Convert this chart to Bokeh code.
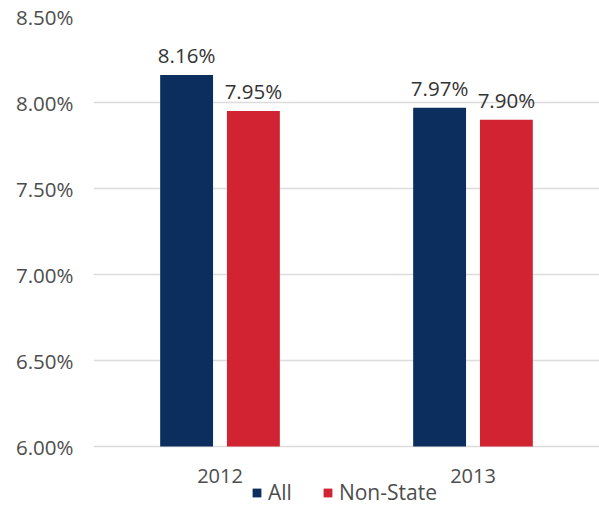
from bokeh.plotting import figure
from bokeh.models import ColumnDataSource, FactorRange, Range1d, Legend, LegendItem, FixedTicker, LabelSet, CustomJSTickFormatter
from bokeh.transform import dodge
from bokeh.core.properties import value
from bokeh.embed import file_html
from bokeh.resources import INLINE

years = ["2012", "2013"]
series = ["All", "Non-State"]
all_vals = [8.16, 7.97]
nonstate_vals = [7.95, 7.90]
colors = ["#0b2e5f", "#d22333"]
yticks = [6.0, 6.5, 7.0, 7.5, 8.0, 8.5]

FONT = "Open Sans"
TXT = "#4d4d4d"

src = ColumnDataSource(dict(
    year=years,
    base=[yticks[0]] * len(years),
    all=all_vals,
    ns=nonstate_vals,
    all_lbl=[f"{v:.2f}%" for v in all_vals],
    ns_lbl=[f"{v:.2f}%" for v in nonstate_vals],
))

# frame extends below the 6.00% baseline so that category labels and legend sit inside it
frame_h = 492
px_per_unit = 430 / (yticks[-1] - yticks[0])
y_start = yticks[0] - (frame_h - 430) / px_per_unit

p = figure(width=599, height=508, frame_width=506, frame_height=frame_h,
           x_range=FactorRange(*years, range_padding=0),
           y_range=Range1d(y_start, yticks[-1]), output_backend="svg", toolbar_location=None,
           min_border_left=93, min_border_right=0, min_border_top=16, min_border_bottom=0,
           x_axis_location=None)
p.outline_line_color = None

off = 0.132
w = 0.209
r1 = p.vbar(x=dodge("year", -off, range=p.x_range), top="all", bottom="base", width=w,
            source=src, fill_color=colors[0], line_color=None)
r2 = p.vbar(x=dodge("year", off, range=p.x_range), top="ns", bottom="base", width=w,
            source=src, fill_color=colors[1], line_color=None)

for col, lbl, o in [("all", "all_lbl", -off), ("ns", "ns_lbl", off)]:
    ls = LabelSet(x=dodge("year", o, range=p.x_range), y=col, text=lbl, source=src,
                  text_align="center", text_baseline="bottom", y_offset=6,
                  text_font=value(FONT), text_font_size="20.5px", text_color="#333333")
    p.add_layout(ls)

# category labels under the baseline
cat = LabelSet(x="year", y="base", text="year", source=src, text_align="center",
               text_baseline="middle", y_offset=-29, text_font=value(FONT),
               text_font_size="20px", text_color=TXT)
p.add_layout(cat)

p.yaxis.ticker = FixedTicker(ticks=yticks)
p.yaxis.formatter = CustomJSTickFormatter(code="return tick.toFixed(2) + '%';")
p.yaxis.axis_line_color = None
p.yaxis.major_tick_line_color = None
p.yaxis.minor_tick_line_color = None
p.yaxis.major_tick_out = 0
p.yaxis.major_tick_in = 0
p.yaxis.minor_tick_out = 0
p.yaxis.major_label_text_font = FONT
p.yaxis.major_label_text_font_size = "20.5px"
p.yaxis.major_label_text_color = TXT
p.yaxis.major_label_standoff = 20

p.xgrid.grid_line_color = None
p.ygrid.grid_line_color = "#dcdcdc"
p.ygrid.grid_line_width = 1.5

legend = Legend(items=[LegendItem(label=series[0], renderers=[r1]),
                       LegendItem(label=series[1], renderers=[r2])],
                orientation="horizontal", location=(158, 2),
                label_text_font=FONT, label_text_font_size="21px", label_text_color=TXT,
                glyph_width=11, glyph_height=11, label_standoff=6, spacing=30,
                label_height=11, padding=0, margin=0, border_line_color=None,
                background_fill_alpha=0)
p.add_layout(legend, "center")

open("out.html", "w").write(file_html(p, INLINE))
